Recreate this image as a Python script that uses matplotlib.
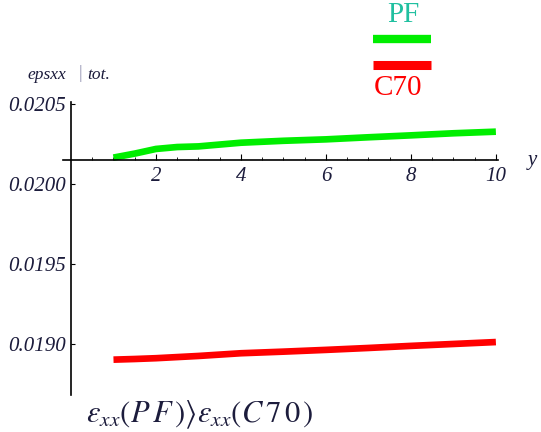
#Imports
import matplotlib
matplotlib.use("Agg")
import matplotlib.pyplot as plt
from matplotlib.lines import Line2D

#data
y_vals = [1, 1.5, 2, 2.5, 3, 4, 5, 6, 7, 8, 9, 10]
eps_pf = [0.020165, 0.020190, 0.020219, 0.020231, 0.020235, 0.020258,
          0.020270, 0.020279, 0.020292, 0.020304, 0.020317, 0.020327]
eps_c70 = [0.018902, 0.018906, 0.018911, 0.018918, 0.018925, 0.018942,
           0.018952, 0.018963, 0.018975, 0.018988, 0.019000, 0.019012]
xticks = [2, 4, 6, 8, 10]
yticks = [0.0190, 0.0195, 0.0200, 0.0205]
ytick_labels = ["0.0190", "0.0195", "0.0200", "0.0205"]

plt.rcParams['mathtext.fontset'] = 'stix'
serif = 'Liberation Serif'
tick_col = '#1c1c3c'

fig = plt.figure(figsize=(5.41, 4.32), dpi=100)
W, H = 541, 432
#axes box in pixels: left 62.5, right 498, top 102, bottom 395
ax = fig.add_axes([62.5 / W, 37 / H, (498 - 62.5) / W, 293 / H])
ax.set_xlim(-0.2, 10.05)
ax.set_ylim(0.018681, 0.0205125)

ax.plot(y_vals, eps_pf, color='#00ee00', lw=4.8, solid_capstyle='butt')
ax.plot(y_vals, eps_c70, color='#ff0000', lw=4.8, solid_capstyle='butt')

#mathematica style axes crossing
ax.spines['top'].set_visible(False)
ax.spines['right'].set_visible(False)
ax.spines['left'].set_position(('data', 0))
ax.spines['bottom'].set_position(('data', 0.02015))
ax.spines['left'].set_linewidth(1.2)
ax.spines['bottom'].set_linewidth(1.2)

ax.set_xticks(xticks)
ax.set_xticks([0.5 * i for i in range(1, 21) if i % 4 != 0], minor=True)
ax.set_yticks(yticks)
ax.set_yticklabels(ytick_labels)
ax.tick_params(axis='x', which='major', direction='in', length=4, width=0.8, pad=5)
ax.tick_params(axis='x', which='minor', direction='in', length=2, width=0.6)
ax.tick_params(axis='y', which='major', direction='in', length=3, width=0.8, pad=4)
for lab in ax.get_xticklabels() + ax.get_yticklabels():
    lab.set_fontfamily(serif)
    lab.set_fontstyle('italic')
    lab.set_fontsize(15)
    lab.set_color(tick_col)

#axis labels
fig.text(27 / W, 1 - 75 / H, 'epsxx', family=serif, style='italic',
         fontsize=12.5, color=tick_col, va='center', ha='left')
fig.text(79 / W, 1 - 73 / H, '|', family=serif, fontsize=13, color='#9090b0',
         va='center', ha='left')
fig.text(87 / W, 1 - 75 / H, 'tot.', family=serif, style='italic',
         fontsize=12.5, color=tick_col, va='center', ha='left')
fig.text(537 / W, 1 - 160 / H, 'y', family=serif, style='italic',
         fontsize=15, color=tick_col, va='center', ha='right')
fig.text(86 / W, 1 - 415 / H,
         r'$\varepsilon_{xx}(P\,F\,)\rangle\varepsilon_{xx}(C\,7\,0\,)$',
         fontsize=22, color=tick_col, va='center', ha='left')

#legend drawn by hand
fig.text(403 / W, 1 - 15 / H, 'PF', family=serif, fontsize=21, color='#20c0a0',
         va='center', ha='center')
fig.text(398 / W, 1 - 88 / H, 'C70', family=serif, fontsize=21, color='#ff0000',
         va='center', ha='center')
fig.add_artist(Line2D([373 / W, 431 / W], [1 - 39 / H, 1 - 39 / H],
                      color='#00ee00', lw=6, solid_capstyle='butt'))
fig.add_artist(Line2D([373 / W, 431 / W], [1 - 64.5 / H, 1 - 64.5 / H],
                      color='#ff0000', lw=6.5, solid_capstyle='butt'))

fig.savefig('out.png', dpi=100)
